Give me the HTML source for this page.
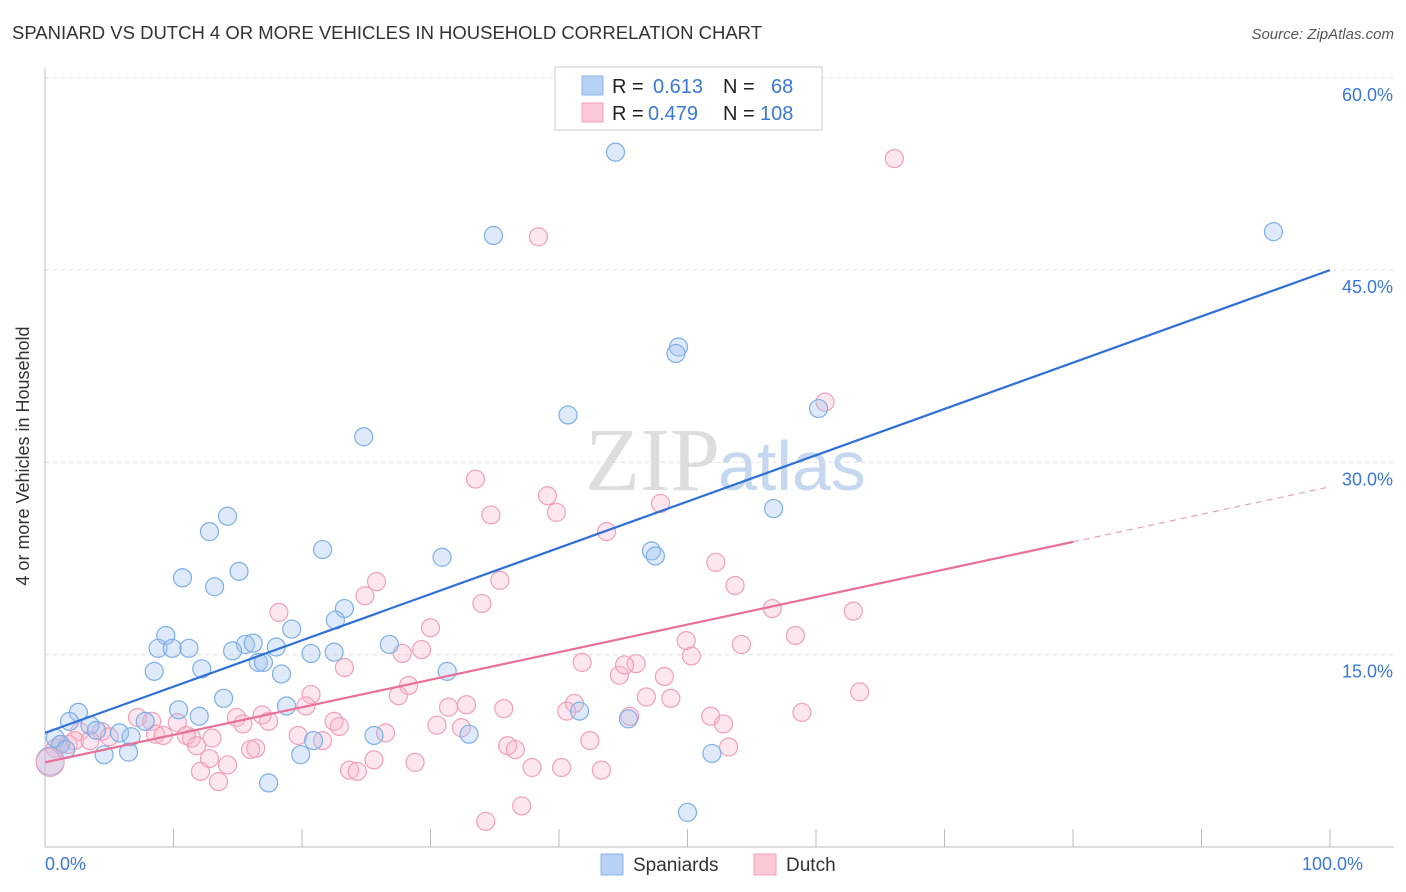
<!DOCTYPE html>
<html><head><meta charset="utf-8"><style>
body{margin:0;background:#fff;font-family:"Liberation Sans",sans-serif;}
svg{display:block}
</style></head><body>
<svg id="c" width="1406" height="892">
<text x="12" y="39" font-size="18" fill="#333" textLength="750" lengthAdjust="spacingAndGlyphs">SPANIARD VS DUTCH 4 OR MORE VEHICLES IN HOUSEHOLD CORRELATION CHART</text>
<text x="1394" y="39" font-size="15" fill="#555" font-style="italic" text-anchor="end">Source: ZipAtlas.com</text>
<text x="720" y="490" font-size="90" fill="#ddd" font-family="Liberation Serif,serif" text-anchor="end">ZIP</text>
<text x="718" y="490" font-size="70" fill="#c5d8ef">atlas</text>
<text x="29" y="456" font-size="18" fill="#333" text-anchor="middle" transform="rotate(-90 29 456)">4 or more Vehicles in Household</text>
<g id="grid"></g><g id="pts"></g><g id="lines"></g>
<g>
<rect x="555" y="67" width="267" height="63" fill="#fff" stroke="#ccc"/>
<rect x="582" y="76" width="21" height="19" fill="#b8d2f5" stroke="#8cb4e8"/>
<rect x="582" y="103" width="21" height="19" fill="#fbc8d6" stroke="#f0a0b8"/>
<text x="612" y="93" font-size="20" fill="#222">R =</text><text x="653" y="93" font-size="20" fill="#3a78d4">0.613</text>
<text x="723" y="93" font-size="20" fill="#222">N =</text><text x="771" y="93" font-size="20" fill="#3a78d4">68</text>
<text x="612" y="120" font-size="20" fill="#222">R =</text><text x="648" y="120" font-size="20" fill="#3a78d4">0.479</text>
<text x="723" y="120" font-size="20" fill="#222">N =</text><text x="760" y="120" font-size="20" fill="#3a78d4">108</text>
</g>
<g>
<rect x="601" y="854" width="22" height="21" fill="#b8d2f5" stroke="#8cb4e8"/>
<text x="633" y="871" font-size="19" fill="#333">Spaniards</text>
<rect x="754" y="854" width="22" height="21" fill="#fbc8d6" stroke="#f0a0b8"/>
<text x="786" y="871" font-size="19" fill="#333">Dutch</text>
</g>
</svg>
<script>
const yTicks=[15,30,45,60];
const xTickLabels=["0.0%","100.0%"];
const blueX=[44.4,34.9,95.6,49.3,49.1,40.7,60.2,24.8,56.7,14.2,12.8,21.6,30.9,47.2,47.5,10.7,15.1,13.2,23.3,22.6,19.2,9.4,8.8,9.9,11.2,15.6,16.2,14.6,18.0,16.6,17.0,8.5,12.2,20.7,22.5,26.8,31.3,18.4,13.9,10.4,12.0,18.8,41.6,45.4,2.6,1.9,3.5,4.0,5.8,6.7,7.8,25.6,33.0,20.9,0.8,1.2,1.6,4.6,6.5,19.9,51.9,17.4,50.0];
const blueY=[54.2,47.7,48.0,39.0,38.5,33.7,34.2,32.0,26.4,25.8,24.6,23.2,22.6,23.1,22.7,21.0,21.5,20.3,18.6,17.7,17.0,16.5,15.5,15.5,15.5,15.8,15.9,15.3,15.6,14.4,14.4,13.7,13.9,15.1,15.2,15.8,13.7,13.5,11.6,10.7,10.2,11.0,10.6,10.0,10.5,9.8,9.5,9.1,8.9,8.6,9.8,8.7,8.8,8.3,8.5,8.0,7.6,7.2,7.4,7.2,7.3,5.0,2.7];
const pinkX=[66.1,38.4,60.7,33.5,39.1,34.7,39.8,47.9,43.7,52.2,35.4,25.8,53.7,24.9,34.0,56.6,62.9,18.2,30.0,58.4,49.9,27.8,29.3,50.3,54.2,23.3,41.8,44.7,46.0,45.1,48.2,28.3,20.7,63.4,46.8,48.7,27.5,31.4,32.8,20.3,35.7,41.2,40.6,58.9,45.5,51.8,52.8,14.9,16.9,17.4,15.4,7.2,8.3,10.3,22.5,22.9,26.5,30.5,32.4,8.6,9.2,11.4,11.0,13.0,4.4,5.0,2.7,0.8,1.2,1.8,2.3,3.5,11.8,19.7,21.6,42.4,53.2,36.0,36.6,16.0,16.4,25.6,28.8,37.9,40.2,43.3,14.2,12.8,12.1,23.7,24.3,13.5,37.1,34.3];
const pinkY=[53.7,47.6,34.7,28.7,27.4,25.9,26.1,26.8,24.6,22.2,20.8,20.7,20.4,19.6,19.0,18.6,18.4,18.3,17.1,16.5,16.1,15.1,15.4,14.9,15.8,14.0,14.4,13.4,14.3,14.2,13.3,12.6,11.9,12.1,11.7,11.6,11.8,10.9,11.1,11.0,10.8,11.2,10.6,10.5,10.2,10.2,9.6,10.1,10.3,9.8,9.6,10.1,9.8,9.7,9.8,9.4,8.9,9.5,9.3,8.8,8.7,8.5,8.7,8.5,9.0,8.6,9.0,7.7,8.0,8.0,8.3,8.3,7.9,8.7,8.3,8.3,7.8,7.9,7.6,7.6,7.7,6.8,6.6,6.2,6.2,6.0,6.4,6.9,5.9,6.0,5.9,5.1,3.2,2.0];
const blueTrend=[8.9,45.0];
const pinkTrend=[6.6,28.1];
const pinkSolidEnd=80;
const NS="http://www.w3.org/2000/svg";
const X=v=>45+v*12.85, Y=v=>847-v*12.82;
function mk(t,a,p){const e=document.createElementNS(NS,t);for(const k in a)e.setAttribute(k,a[k]);p.appendChild(e);return e;}
const g=document.getElementById('grid');
yTicks.forEach(t=>{
 const l=mk('line',{x1:45,x2:1394,y1:Y(t),y2:Y(t),stroke:'#ddd','stroke-dasharray':'4,4'},g);
 
 
 const tx=mk('text',{x:1393,y:Y(t)+23,'font-size':18,fill:'#3a78d4','text-anchor':'end'},g);
 tx.textContent=t.toFixed(1)+'%';
 
 
});
const ax=mk('line',{x1:45,x2:45,y1:68,y2:847,stroke:'#bbb'},g);


const bx=mk('line',{x1:45,x2:1394,y1:847,y2:847,stroke:'#bbb'},g);


for(let i=0;i<=10;i++){const t=mk('line',{x1:X(i*10),x2:X(i*10),y1:829,y2:847,stroke:'#bbb'},g);
 
 }
[[0,'start'],[100,'end']].forEach((d,i)=>{const t=mk('text',{x:X(d[0])+(i?33:0),y:870,'font-size':18,fill:'#3a78d4','text-anchor':d[1]},g);t.textContent=xTickLabels[i];
 
 });
const p=document.getElementById('pts');
function pts(xs,ys,fill,stroke,name){xs.forEach((x,i)=>{const c=mk('circle',{cx:X(x),cy:Y(ys[i]),r:9,fill:fill,stroke:stroke,'stroke-width':1.2},p);
 
 });}
pts(pinkX,pinkY,'rgba(248,182,202,0.35)','#f0a0ba','dutch-point');
pts(blueX,blueY,'rgba(160,196,240,0.35)','#7eaee6','spaniard-point');
[[0.4,6.7,'rgba(160,196,240,0.4)','#7eaee6'],[0.4,6.6,'rgba(248,182,202,0.35)','#f0a0ba']].forEach(d=>{const c=mk('circle',{cx:X(d[0]),cy:Y(d[1]),r:14,fill:d[2],stroke:d[3]},p);
 
 });
const L=document.getElementById('lines');
const bl=mk('line',{x1:X(0),y1:Y(blueTrend[0]),x2:X(100),y2:Y(blueTrend[1]),stroke:'#2f6fd8','stroke-width':2.2},L);


const py=v=>pinkTrend[0]+(pinkTrend[1]-pinkTrend[0])*v/100;
const pl=mk('line',{x1:X(0),y1:Y(py(0)),x2:X(pinkSolidEnd),y2:Y(py(pinkSolidEnd)),stroke:'#e8709a','stroke-width':2.2},L);


const pd=mk('line',{x1:X(pinkSolidEnd),y1:Y(py(pinkSolidEnd)),x2:X(100),y2:Y(py(100)),stroke:'#e8a0b8','stroke-width':1.2,'stroke-dasharray':'6,5'},L);


</script>
</body></html>
